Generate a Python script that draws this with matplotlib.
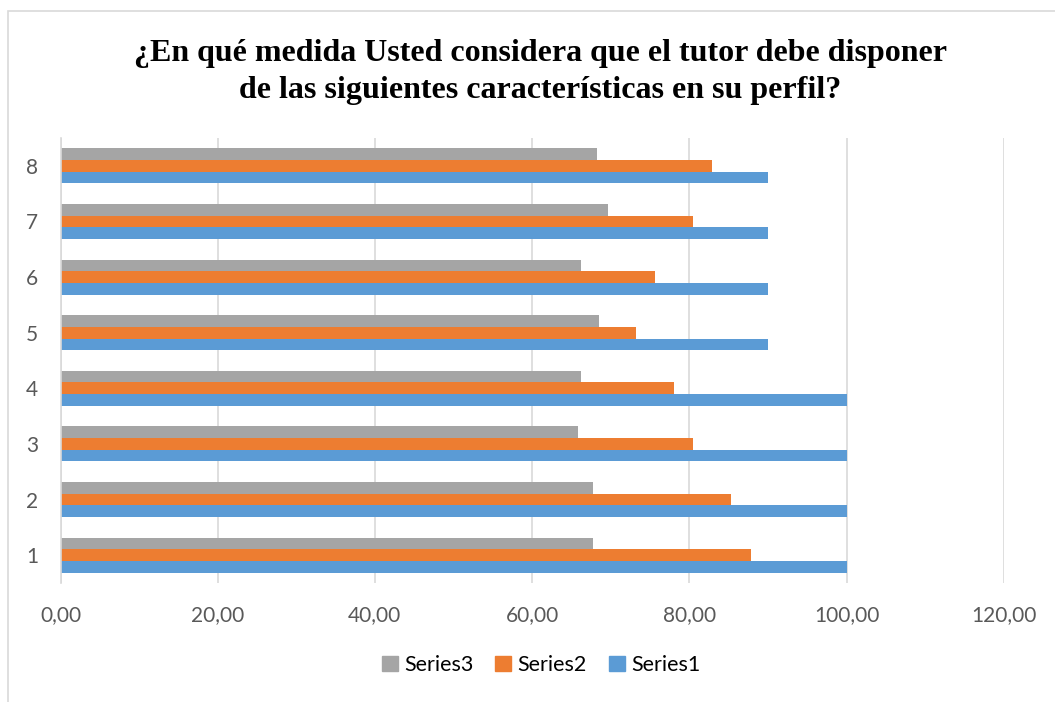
import matplotlib
matplotlib.use("Agg")
import matplotlib.pyplot as plt
from matplotlib.patches import Rectangle, Patch
import numpy as np

categories = ["1", "2", "3", "4", "5", "6", "7", "8"]
series1 = [100, 100, 100, 100, 90, 90, 90, 90]
series2 = [87.8, 85.3, 80.5, 78.1, 73.2, 75.6, 80.5, 82.9]
series3 = [67.7, 67.7, 65.9, 66.2, 68.5, 66.2, 69.7, 68.3]
xticks = [0, 20, 40, 60, 80, 100, 120]
title = "¿En qué medida Usted considera que el tutor debe disponer\nde las siguientes características en su perfil?"

c1, c2, c3 = "#5B9BD5", "#ED7D31", "#A5A5A5"
W, H = 1055, 702
fig = plt.figure(figsize=(W / 100, H / 100), dpi=100)
fig.patches.append(Rectangle((8 / W, -0.1), 1.2, (H - 11) / H + 0.1, transform=fig.transFigure,
                             fill=False, edgecolor="#D9D9D9", linewidth=1.2))

left, right, top, bottom = 60.5, 1003.7, 138, 583
ax = fig.add_axes([left / W, (H - bottom) / H, (right - left) / W, (bottom - top) / H])

y = np.arange(1, len(categories) + 1)
bh = 0.21
ax.barh(y - bh, series1, height=bh, color=c1, zorder=3)
ax.barh(y, series2, height=bh, color=c2, zorder=3)
ax.barh(y + bh, series3, height=bh, color=c3, zorder=3)

ax.set_xlim(0, 120)
ax.set_ylim(0.5, len(categories) + 0.5)
ax.set_xticks(xticks)
ax.set_xticklabels([f"{v:.2f}".replace(".", ",") for v in xticks])
ax.set_yticks(y)
ax.set_yticklabels(categories)
ax.grid(axis="x", color="#D9D9D9", linewidth=1.2, zorder=0)
for s in ["top", "right", "bottom"]:
    ax.spines[s].set_visible(False)
ax.spines["left"].set_color("#D9D9D9")
ax.spines["left"].set_linewidth(1.2)
ax.spines["left"].set_zorder(4)
ax.tick_params(axis="both", length=0, labelcolor="#595959", labelsize=15)
ax.tick_params(axis="x", pad=16)
ax.tick_params(axis="y", pad=16)
for lab in ax.get_xticklabels() + ax.get_yticklabels():
    lab.set_fontfamily("Lato")

fig.text(0.512, 1 - 72 / H, title, ha="center", va="center", fontfamily="Liberation Serif",
         fontweight="bold", fontsize=23, linespacing=1.35, color="#000000")

handles = [Patch(color=c3, label="Series3"), Patch(color=c2, label="Series2"), Patch(color=c1, label="Series1")]
fig.legend(handles=handles, loc="center", bbox_to_anchor=(541 / W, 1 - 665 / H), ncol=3, frameon=False,
           prop={"family": "Lato", "size": 15.5}, handlelength=0.75, handleheight=0.75, handletextpad=0.3,
           columnspacing=1.0, labelcolor="#000000")

fig.savefig("out.png", dpi=100)
